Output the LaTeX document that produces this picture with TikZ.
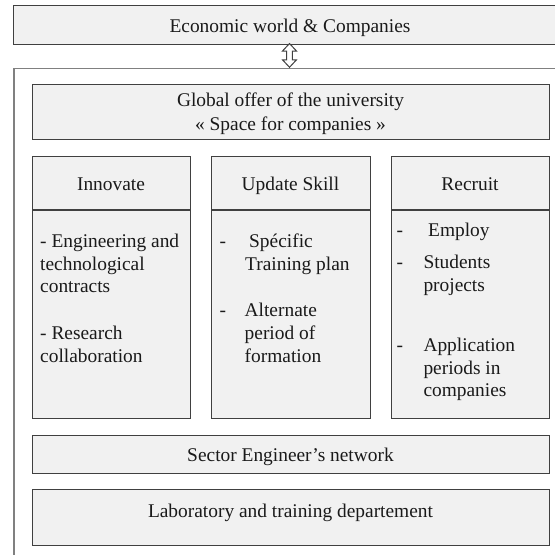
\documentclass[tikz,border=0pt]{standalone}
\usepackage{fontspec}
\setmainfont{Liberation Serif}[Ligatures=TeX]
\newfontfamily\tnr{Liberation Serif}[Ligatures=TeX]
\definecolor{boxfill}{HTML}{F1F1F1}
\definecolor{boxline}{HTML}{404040}
\definecolor{outerline}{HTML}{808080}
\definecolor{txtcol}{HTML}{1A1A1A}
\begin{document}
\begin{tikzpicture}[x=1pt,y=-1pt,
  box/.style={draw=boxline, fill=boxfill, line width=1.3pt, inner sep=0pt, anchor=north west},
  divider/.style={draw=boxline, line width=1.3pt},
  lbl/.style={inner sep=0pt, text=txtcol, font=\tnr\fontsize{19.4}{22.7}\selectfont},
  ctr/.style={lbl, anchor=base},
  lft/.style={lbl, anchor=base west}]
\useasboundingbox (0,0) rectangle (555,555);
\fill[white] (0,0) rectangle (555,555);
% outer container (cut by the page edges)
\node[draw=outerline, line width=1.8pt, minimum width=600pt, minimum height=560pt, inner sep=0pt, anchor=north west] (outer) at (13,67.5) {};
% top box
\node[box, minimum width=600pt, minimum height=38.5pt] (top) at (13,5) {};
\node[ctr] (topT) at (290,32.5) {Economic world \& Companies};
% double arrow
\coordinate (ah) at (289.5,43.5);
\draw[draw=boxline, fill=white, line width=1pt, line join=miter]
  (ah) -- ++(7,7.5) -- ++(-4.2,0) -- ++(0,8.8) -- ++(4.2,0) -- ++(-7,7.5)
  -- ++(-7,-7.5) -- ++(4.2,0) -- ++(0,-8.8) -- ++(-4.2,0) -- cycle;
% global offer
\node[box, minimum width=517pt, minimum height=55pt] (glob) at (32,84) {};
\node[ctr] (globA) at (290.5,106.7) {Global offer of the university};
\node[ctr] (globB) at (290.5,130) {« Space for companies »};
% columns
\node[box, minimum width=158pt, minimum height=262pt] (innov) at (32,156) {};
\node[box, minimum width=159pt, minimum height=262pt] (upd) at (211,156) {};
\node[box, minimum width=158pt, minimum height=262pt] (recr) at (391,156) {};
\draw[divider] ([yshift=-54pt]innov.north west) -- ([yshift=-54pt]innov.north east);
\draw[divider] ([yshift=-54pt]upd.north west) -- ([yshift=-54pt]upd.north east);
\draw[divider] ([yshift=-54pt]recr.north west) -- ([yshift=-54pt]recr.north east);
\node[ctr] (hInnov) at (111,190.3) {Innovate};
\node[ctr] (hUpd) at (290.5,190.3) {Update Skill};
\node[ctr] (hRecr) at (470,190.3) {Recruit};
% Innovate body
\node[lft] (i1) at (40,247.3) {- Engineering and};
\node[lft] (i2) at (40,270) {technological};
\node[lft] (i3) at (40,292.7) {contracts};
\node[lft] (i4) at (40,339.6) {- Research};
\node[lft] (i5) at (40,362.3) {collaboration};
% Update Skill body
\node[lft] (ud1) at (219.3,247.3) {-};
\node[lft] (u1) at (249,247.3) {Spécific};
\node[lft] (u2) at (245,270) {Training plan};
\node[lft] (ud2) at (219.3,316.7) {-};
\node[lft] (u3) at (244.5,316.7) {Alternate};
\node[lft] (u4) at (244.5,339.4) {period of};
\node[lft] (u5) at (244.5,362.1) {formation};
% Recruit body
\node[lft] (rd1) at (396.5,236.5) {-};
\node[lft] (r1) at (428,236.5) {Employ};
\node[lft] (rd2) at (396.5,268.5) {-};
\node[lft] (r2) at (423.3,268.5) {Students};
\node[lft] (r3) at (423.3,291.2) {projects};
\node[lft] (rd3) at (396.5,351.5) {-};
\node[lft] (r4) at (423.3,351.5) {Application};
\node[lft] (r5) at (423.3,374.2) {periods in};
\node[lft] (r6) at (423.3,396.9) {companies};
% bottom boxes
\node[box, minimum width=517pt, minimum height=38pt] (sect) at (32,435) {};
\node[ctr] (sectT) at (290.5,461) {Sector Engineer’s network};
\node[box, minimum width=517pt, minimum height=56pt] (lab) at (32,489) {};
\node[ctr] (labT) at (290.5,517.5) {Laboratory and training departement};
\end{tikzpicture}
\end{document}
